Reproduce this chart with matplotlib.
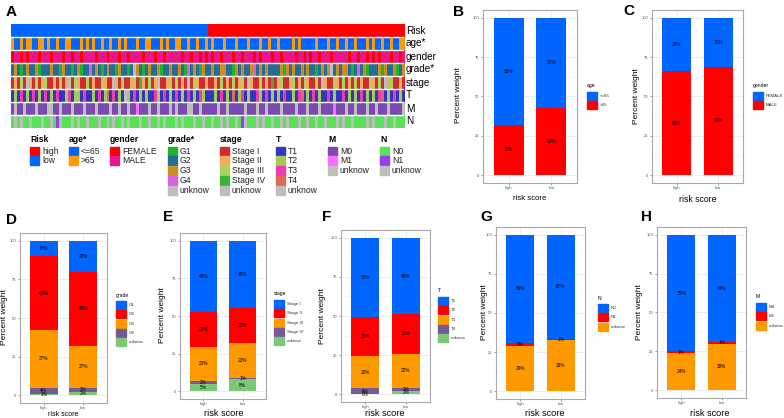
import matplotlib
matplotlib.use("Agg")
import matplotlib.pyplot as plt
from matplotlib.patches import Rectangle
from matplotlib.colors import to_rgb
import numpy as np

plt.rcParams["font.family"] = ["Liberation Sans", "DejaVu Sans"]

W, H = 784, 418

# ---- panel A: clinical annotation of the samples (left half low risk, right half high risk)
# one character = one block of samples
risk_row = "l" * 66 + "h" * 66
age_row = ("oyyoyooyyoo" "yoyyoyyooyy" "yoyoyoyyoyy" "oyyoyoyyyoy" "yooyyyoyoyy" "ooyyoyyoyyo"
           "yoyyyoyyyoy" "yyoyyyoyyoy" "yoyyyyoyoyy" "yyyoyyyoyyo" "yyoyyoyyyoy" "oyyoyyoyyoo")
gender_row = ("fmmfmfmmmfm" "mmfmmmfmmfm" "mfmmmmfmmmf" "mmmfmmfmmmm" "fmmmfmmfmmm" "mmfmmfmmfmf"
              "mfmmfmmmfmm" "fmmmfmfmmmf" "mmfmmmmfmmf" "mfmmfmmmfmm" "mmmfmmfmmfm" "fmfmmmfmmfm")
grade_row = ("23212322312" "22322132212" "31224232123" "22132212u32" "12322312232" "23214232132"
             "23223322132" "32234232322" "22313232232" "32212323u23" "23321242312" "22313223123")
stage_row = ("12131u21312" "31121312u13" "21131211321" "1u213112314" "21312u11231" "3121u132112"
             "11213121312" "31u21131214" "12311231213" "21131u21132" "13121312113" "2131u231121")
t_row = ("12131213121" "31213112312" "21311213124" "13121u21312" "12113213121" "31213121321"
         "11213121412" "31211321312" "12131121341" "21312113121" "13121213121" "21341213121")
m_row = ("0u00u000u00" "0uu00u000u0" "00u000u0000" "u00u00u0010" "00u00u000u0" "u000uu00u00"
         "000u00u0000" "0u000u00u00" "00u0000u000" "u000u000010" "00u00u000u0" "0u000u0000u")
n_row = ("0u0u00u000u" "00u01u000u0" "u00u000u00u" "0u00u0u000u" "00u00u0u000" "u0u000u00u0"
         "0u00u0u00u0" "1u000u0u00u" "00u0u000u00" "u00u00u000u" "0u00u0000u0" "u000u00u000")

grey = "#BEBEBE"
heat_rows = [
    ("Risk", risk_row, {"h": "#FF0000", "l": "#0066FF"}),
    ("age*", age_row, {"y": "#0066FF", "o": "#FF9900"}),
    ("gender", gender_row, {"f": "#FF0000", "m": "#E8168C"}),
    ("grade*", grade_row, {"1": "#1BB52B", "2": "#256D96", "3": "#CC8E1E", "4": "#D763D9", "u": grey}),
    ("stage", stage_row, {"1": "#D12B2B", "2": "#F5A862", "3": "#A8D65A", "4": "#3BB33B", "u": grey}),
    ("T", t_row, {"1": "#3434C0", "2": "#A2CD50", "3": "#EE3CAE", "4": "#DE6954", "u": grey}),
    ("M", m_row, {"0": "#7A4AB0", "1": "#FF6BFF", "u": grey}),
    ("N", n_row, {"0": "#58E258", "1": "#9A3BF5", "u": grey}),
]

heat_legend = [
    ("Risk", 30, [("high", "#FF0000"), ("low", "#0066FF")]),
    ("age*", 69, [("<=65", "#0066FF"), (">65", "#FF9900")]),
    ("gender", 110, [("FEMALE", "#FF0000"), ("MALE", "#E8168C")]),
    ("grade*", 168, [("G1", "#1BB52B"), ("G2", "#256D96"), ("G3", "#CC8E1E"), ("G4", "#D763D9"), ("unknow", grey)]),
    ("stage", 220, [("Stage I", "#D12B2B"), ("Stage II", "#F5A862"), ("Stage III", "#A8D65A"),
                    ("Stage IV", "#3BB33B"), ("unknow", grey)]),
    ("T", 276, [("T1", "#3434C0"), ("T2", "#A2CD50"), ("T3", "#EE3CAE"), ("T4", "#DE6954"), ("unknow", grey)]),
    ("M", 328, [("M0", "#7A4AB0"), ("M1", "#FF6BFF"), ("unknow", grey)]),
    ("N", 380, [("N0", "#58E258"), ("N1", "#9A3BF5"), ("unknow", grey)]),
]

# ---- panels B-H: percent of each clinical level in high / low risk group
risk_groups = ["high", "low"]

age_levels = ["<=65", ">65"]
age_high = [68, 32]
age_low = [57, 43]

gender_levels = ["FEMALE", "MALE"]
gender_high = [34, 66]
gender_low = [31, 69]

grade_levels = ["G1", "G2", "G3", "G4", "unknow"]
grade_high = [10, 48, 37, 4, 1]
grade_low = [20, 48, 27, 3, 2]

stage_levels = ["Stage I", "Stage II", "Stage III", "Stage IV", "unknow"]
stage_high = [48, 23, 23, 2, 5]
stage_low = [45, 23, 23, 1, 8]

t_levels = ["T1", "T2", "T3", "T4", "unknow"]
t_high = [50, 25, 20, 4, 0]
t_low = [49, 25, 22, 2, 2]

n_levels = ["N0", "N1", "unknow"]
n_high = [69, 2, 29]
n_low = [67, 1, 33]

m_levels = ["M0", "M1", "unknow"]
m_high = [75, 1, 24]
m_low = [69, 1, 30]

bar_colors = ["#0066FF", "#FF0000", "#FF9900", "#765A96", "#7CC876"]

fig = plt.figure(figsize=(W / 100, H / 100), dpi=100)


def px_axes(left, top, right, bottom, **kw):
    return fig.add_axes([left / W, 1 - bottom / H, (right - left) / W, (bottom - top) / H], **kw)


over = px_axes(0, 0, W, H, zorder=10)
over.set_xlim(0, W)
over.set_ylim(H, 0)
over.axis("off")

# heatmap
hax = px_axes(11, 24, 404, 128)
for i, (name, codes, cmap) in enumerate(heat_rows):
    img = np.array([[to_rgb(cmap[c]) for c in codes]])
    hax.imshow(img, extent=(0, 1, i + 1, i), aspect="auto", interpolation="nearest")
    over.text(406, 24 + (i + 0.5) * 13, name, fontsize=7.2, va="center", ha="left")
for i in range(1, 8):
    hax.axhline(i, color="white", lw=1)
hax.set_xlim(0, 1)
hax.set_ylim(8, 0)
hax.axis("off")

for title, kx, items in heat_legend:
    over.text(kx, 139, title, fontsize=6.2, fontweight="bold", va="center", ha="left")
    for j, (lab, col) in enumerate(items):
        cy = 151 + j * 9.9
        over.add_patch(Rectangle((kx, cy - 4.5), 9, 9, color=col))
        over.text(kx + 12, cy, lab, fontsize=6.2, va="center", ha="left", color="#222222")

over.text(6, 12, "A", fontsize=11, fontweight="bold", va="center")

panels = [
    dict(letter="B", lxy=(453, 12), rect=(483, 10, 577, 183), ylab=(459, 95), xlab=(530, 199), xfs=5.6,
         leg=(587, 86), title="age", levels=age_levels, high=age_high, low=age_low),
    dict(letter="C", lxy=(623, 11), rect=(652, 10, 743, 183), ylab=(637, 96), xlab=(698, 199), xfs=6.2,
         leg=(753, 86), title="gender", levels=gender_levels, high=gender_high, low=gender_low),
    dict(letter="D", lxy=(6, 220), rect=(20, 233, 107, 403), ylab=(5, 317), xlab=(63, 415), xfs=5.0,
         leg=(116, 295), title="grade", levels=grade_levels, high=grade_high, low=grade_low),
    dict(letter="E", lxy=(163, 217), rect=(180, 233, 266, 399), ylab=(163, 315), xlab=(224, 413), xfs=6.6,
         leg=(274, 294), title="stage", levels=stage_levels, high=stage_high, low=stage_low),
    dict(letter="F", lxy=(322, 217), rect=(341, 230, 430, 402), ylab=(323, 316), xlab=(385, 413), xfs=6.6,
         leg=(438, 291), title="T", levels=t_levels, high=t_high, low=t_low),
    dict(letter="G", lxy=(480, 217), rect=(496, 227, 585, 399), ylab=(485, 312), xlab=(545, 413), xfs=6.6,
         leg=(598, 298), title="N", levels=n_levels, high=n_high, low=n_low),
    dict(letter="H", lxy=(641, 217), rect=(657, 227, 746, 398), ylab=(640, 312), xlab=(710, 413), xfs=6.6,
         leg=(756, 297), title="M", levels=m_levels, high=m_high, low=m_low),
]

for p in panels:
    ax = px_axes(*p["rect"])
    cols = bar_colors[: len(p["levels"])]
    for x, vals in zip([1, 2], [p["high"], p["low"]]):
        tot = sum(vals)
        bottom = 0.0
        for k in reversed(range(len(vals))):
            h = vals[k] / tot * 100
            ax.bar(x, h, width=0.7, bottom=bottom, color=cols[k], zorder=2)
            ax.text(x, bottom + h / 2, f"{vals[k]}%", fontsize=3.4, ha="center", va="center", zorder=3)
            bottom += h
    ax.set_xlim(0.4, 2.6)
    ax.set_ylim(-5, 105)
    ax.set_xticks([1, 2], risk_groups)
    ax.set_yticks([0, 25, 50, 75, 100])
    ax.set_yticks([12.5, 37.5, 62.5, 87.5], minor=True)
    ax.grid(True, which="major", color="#EBEBEB", lw=0.6, zorder=0)
    ax.grid(True, which="minor", axis="y", color="#F4F4F4", lw=0.4, zorder=0)
    ax.set_axisbelow(True)
    ax.tick_params(labelsize=3, length=1.5, width=0.4, colors="#555555", pad=1)
    ax.tick_params(which="minor", length=0)
    for s in ax.spines.values():
        s.set_color("#A8A8A8")
        s.set_linewidth(0.8)
    over.text(*p["ylab"], "Percent weight", fontsize=6, rotation=90, ha="center", va="center")
    over.text(*p["xlab"], "risk score", fontsize=p["xfs"], ha="center", va="center")
    over.text(*p["lxy"], p["letter"], fontsize=11, fontweight="bold", va="center")
    lx, ly = p["leg"]
    over.text(lx, ly, p["title"], fontsize=3.6, va="center", ha="left")
    for j, lab in enumerate(p["levels"]):
        top = ly + 6 + j * 9.3
        over.add_patch(Rectangle((lx, top), 10, 8, color=cols[j]))
        over.text(lx + 13, top + 4, lab, fontsize=3.2, va="center", ha="left", color="#333333")

fig.savefig("out.png", dpi=100)
